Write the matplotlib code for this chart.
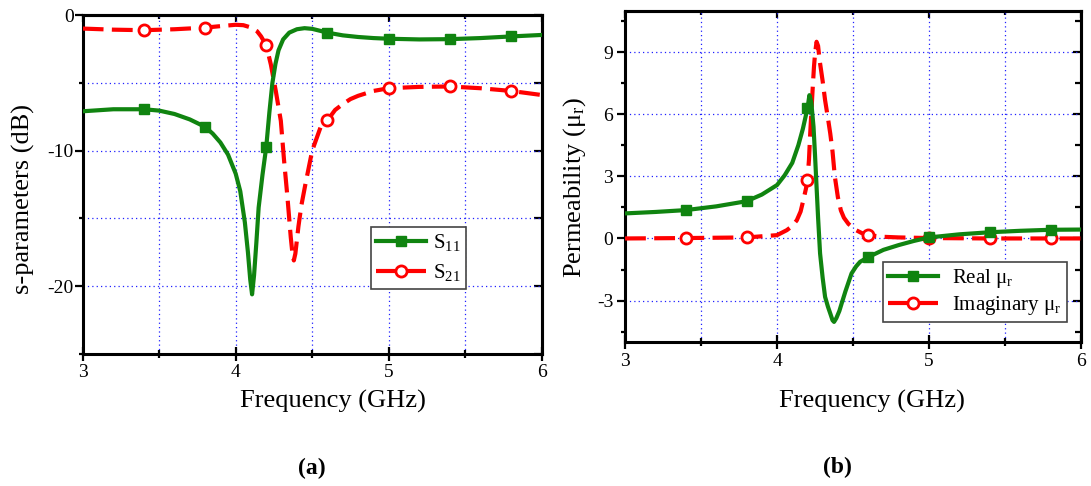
import matplotlib
matplotlib.use('Agg')
import matplotlib.pyplot as plt
from matplotlib.ticker import MultipleLocator, NullFormatter

plt.rcParams['font.family'] = ['Liberation Serif', 'DejaVu Serif']
plt.rcParams['mathtext.fontset'] = 'custom'
plt.rcParams['mathtext.rm'] = 'Liberation Serif'
plt.rcParams['mathtext.it'] = 'Liberation Serif:italic'
plt.rcParams['axes.unicode_minus'] = False

# ---------------- data ----------------
# (a) S-parameters
f_s11 = [3.0, 3.2, 3.4, 3.5, 3.6, 3.7, 3.8, 3.85, 3.9, 3.95, 4.0, 4.03, 4.06, 4.08,
         4.095, 4.107, 4.12, 4.135, 4.15, 4.175, 4.2, 4.22, 4.24, 4.26, 4.28, 4.31,
         4.35, 4.4, 4.45, 4.5, 4.6, 4.7, 4.8, 4.9, 5.0, 5.2, 5.4, 5.6, 5.8, 6.0]
s11 = [-7.1, -6.95, -6.95, -7.05, -7.3, -7.7, -8.25, -8.75, -9.4, -10.3, -11.7, -13.0,
       -15.3, -17.5, -19.5, -20.6, -19.2, -16.8, -14.2, -11.8, -9.7, -7.2, -5.0, -3.6,
       -2.6, -1.8, -1.3, -1.05, -0.97, -1.02, -1.3, -1.5, -1.62, -1.7, -1.75, -1.8,
       -1.78, -1.7, -1.58, -1.47]

f_s21 = [3.0, 3.2, 3.4, 3.6, 3.8, 3.9, 4.0, 4.05, 4.1, 4.14, 4.166, 4.2, 4.23, 4.262,
         4.295, 4.316, 4.338, 4.36, 4.37, 4.38, 4.39, 4.41, 4.43, 4.457, 4.5, 4.554,
         4.6, 4.65, 4.7, 4.75, 4.8, 4.9, 5.0, 5.2, 5.4, 5.6, 5.8, 6.0]
s21 = [-1.0, -1.08, -1.12, -1.05, -0.93, -0.82, -0.72, -0.75, -0.92, -1.2, -1.58, -2.24,
       -3.66, -5.6, -7.8, -10.7, -13.4, -16.4, -17.5, -18.1, -17.6, -15.6, -14.0, -12.4,
       -10.0, -8.3, -7.76, -7.0, -6.57, -6.2, -5.96, -5.6, -5.4, -5.3, -5.27, -5.4,
       -5.6, -5.9]

# (b) permeability
f_re = [3.0, 3.2, 3.4, 3.6, 3.8, 3.9, 4.0, 4.05, 4.1, 4.14, 4.17, 4.2, 4.213, 4.225,
        4.24, 4.25, 4.26, 4.27, 4.283, 4.3, 4.316, 4.335, 4.35, 4.365, 4.375, 4.39,
        4.41, 4.425, 4.45, 4.49, 4.52, 4.546, 4.6, 4.7, 4.8, 4.9, 5.0, 5.2, 5.4, 5.6,
        5.8, 6.0]
mu_re = [1.21, 1.28, 1.37, 1.55, 1.8, 2.12, 2.58, 3.05, 3.65, 4.5, 5.3, 6.28, 6.92, 6.6,
         5.39, 4.0, 2.49, 1.0, -0.72, -1.9, -2.82, -3.3, -3.62, -3.95, -4.03, -3.85,
         -3.5, -3.14, -2.55, -1.69, -1.35, -1.13, -0.9, -0.55, -0.32, -0.12, 0.05,
         0.2, 0.3, 0.37, 0.42, 0.43]

f_im = [3.0, 3.4, 3.8, 4.0, 4.064, 4.1, 4.13, 4.155, 4.173, 4.19, 4.2, 4.21, 4.217,
        4.225, 4.235, 4.243, 4.25, 4.26, 4.27, 4.28, 4.3, 4.316, 4.335, 4.35, 4.365,
        4.38, 4.4, 4.42, 4.44, 4.47, 4.52, 4.56, 4.6, 4.7, 4.8, 5.0, 5.4, 5.8, 6.0]
mu_im = [0.0, 0.02, 0.05, 0.16, 0.4, 0.6, 0.88, 1.3, 1.85, 2.4, 2.82, 3.8, 4.9,
         6.0, 7.32, 8.3, 8.93, 9.5, 9.3, 8.61, 7.6, 6.68, 5.8, 5.07, 4.2,
         3.0, 2.0, 1.35, 1.0, 0.7, 0.4, 0.25, 0.16, 0.08, 0.05, 0.02, 0.0, 0.0, 0.0]

mark_f = [3.4, 3.8, 4.2, 4.6, 5.0, 5.4, 5.8]

GREEN = '#108410'
RED = '#ff0000'
GRID = '#2020ff'


def marks(freqs):
    return [freqs.index(v) for v in mark_f]


def style(ax, ymaj, ymin, ylim, ygrid_minor, ypad, xpad):
    ax.set_xlim(3, 6)
    ax.set_ylim(*ylim)
    ax.xaxis.set_major_locator(MultipleLocator(1))
    ax.xaxis.set_minor_locator(MultipleLocator(0.5))
    ax.yaxis.set_major_locator(MultipleLocator(ymaj))
    ax.yaxis.set_minor_locator(MultipleLocator(ymin))
    ax.grid(which='major', color=GRID, linestyle=(0, (1, 2.5)), linewidth=0.9)
    ax.grid(which='minor', axis='x', color=GRID, linestyle=(0, (1, 2.5)), linewidth=0.9)
    if ygrid_minor:
        ax.grid(which='minor', axis='y', color=GRID, linestyle=(0, (1, 2.5)), linewidth=0.9)
    ax.set_axisbelow(True)
    for s in ax.spines.values():
        s.set_linewidth(2.2)
    ax.tick_params(axis='x', which='both', top=False, direction='inout', width=1.6,
                   labelsize=14, pad=xpad)
    ax.tick_params(axis='x', which='major', length=9.5)
    ax.tick_params(axis='x', which='minor', length=6)
    ax.tick_params(axis='y', which='both', right=False, direction='out', width=1.6,
                   labelsize=14, pad=ypad)
    ax.tick_params(axis='y', which='major', length=5.5)
    ax.tick_params(axis='y', which='minor', length=3)
    top = ax.secondary_xaxis('top')
    top.xaxis.set_major_locator(MultipleLocator(1))
    top.xaxis.set_minor_locator(MultipleLocator(0.5))
    top.xaxis.set_major_formatter(NullFormatter())
    top.tick_params(which='both', direction='in', width=1.6)
    top.tick_params(which='major', length=5)
    top.tick_params(which='minor', length=3)
    top.spines['top'].set_linewidth(2.2)
    right = ax.secondary_yaxis('right')
    right.yaxis.set_major_locator(MultipleLocator(ymaj))
    right.yaxis.set_minor_locator(MultipleLocator(ymin))
    right.yaxis.set_major_formatter(NullFormatter())
    right.tick_params(which='both', direction='in', width=1.6)
    right.tick_params(which='major', length=6)
    right.tick_params(which='minor', length=6 if ygrid_minor else 4)
    right.spines['right'].set_linewidth(2.2)


fig = plt.figure(figsize=(10.91, 4.86), dpi=100)
ax1 = fig.add_axes([0.0758, 0.2716, 0.4207, 0.6975])
ax2 = fig.add_axes([0.5729, 0.2963, 0.4180, 0.6817])

# ---- (a) ----
style(ax1, 10, 5, (-25, 0), True, 1, 2.5)
l21, = ax1.plot(f_s21, s21, color=RED, lw=3, linestyle=(0, (5, 2)),
                marker='o', ms=8, mfc='white', mec=RED, mew=2,
                markevery=marks(f_s21), zorder=3)
l11, = ax1.plot(f_s11, s11, color=GREEN, lw=3, marker='s', ms=7,
                mfc=GREEN, mec=GREEN, markevery=marks(f_s11), zorder=4)
ax1.set_xlabel('Frequency (GHz)', fontsize=19)
ax1.xaxis.label.set_va('center')
ax1.xaxis.set_label_coords(0.545, -0.141)
ax1.set_ylabel('s-parameters (dB)', fontsize=19)
ax1.yaxis.label.set_va('center')
ax1.yaxis.set_label_coords(-0.130, 0.457)
leg1 = ax1.legend(handles=[l11, l21],
                  labels=[r'S$_{\mathrm{11}}$', r'S$_{\mathrm{21}}$'],
                  loc='upper left', bbox_to_anchor=(0.628, 0.375), borderaxespad=0,
                  fontsize=15, fancybox=False, edgecolor='#444444', framealpha=1,
                  handlelength=2.4, handletextpad=0.35, borderpad=0.25,
                  labelspacing=0.45, numpoints=1)
leg1.get_frame().set_linewidth(1.2)

# ---- (b) ----
style(ax2, 3, 1.5, (-5, 11), False, 3, 3)
lim, = ax2.plot(f_im, mu_im, color=RED, lw=3, linestyle=(0, (5, 2)),
                marker='o', ms=8, mfc='white', mec=RED, mew=2,
                markevery=marks(f_im), zorder=3)
lre, = ax2.plot(f_re, mu_re, color=GREEN, lw=3, marker='s', ms=7,
                mfc=GREEN, mec=GREEN, markevery=marks(f_re), zorder=4)
ax2.set_xlabel('Frequency (GHz)', fontsize=19)
ax2.xaxis.label.set_va('center')
ax2.xaxis.set_label_coords(0.542, -0.180)
ax2.set_ylabel('Permeability (μ$_{\\mathrm{r}}$)', fontsize=19)
ax2.yaxis.label.set_va('center')
ax2.yaxis.set_label_coords(-0.110, 0.465)
leg2 = ax2.legend(handles=[lre, lim],
                  labels=['Real μ$_{\\mathrm{r}}$', 'Imaginary μ$_{\\mathrm{r}}$'],
                  loc='upper left', bbox_to_anchor=(0.566, 0.242), borderaxespad=0,
                  fontsize=15, fancybox=False, edgecolor='#444444', framealpha=1,
                  handlelength=2.4, handletextpad=0.67, borderpad=0.25,
                  labelspacing=0.2, numpoints=1)
leg2.get_frame().set_linewidth(1.2)

fig.text(0.286, 0.037, '(a)', fontsize=17, fontweight='bold', ha='center', va='center')
fig.text(0.768, 0.039, '(b)', fontsize=17, fontweight='bold', ha='center', va='center')

fig.savefig('out.png', dpi=100)
